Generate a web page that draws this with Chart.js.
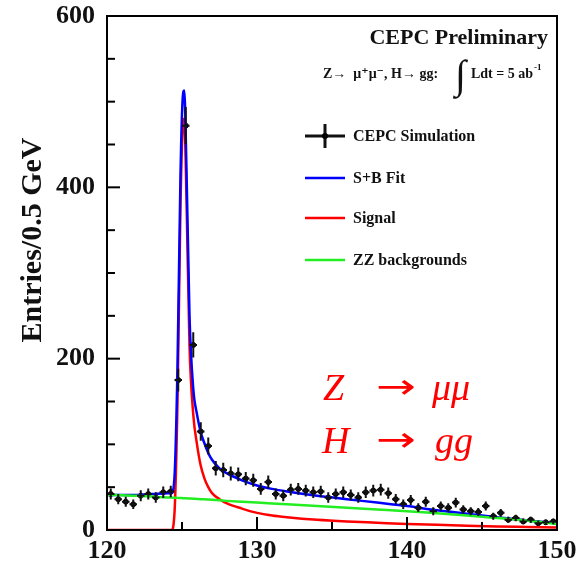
<!DOCTYPE html>
<html>
<head>
<meta charset="utf-8">
<script src="https://cdn.jsdelivr.net/npm/chart.js@4"></script>
<style>
  body { margin: 0; background: #fff; }
  #wrap { width: 578px; height: 569px; }
</style>
</head>
<body>
<div id="wrap"><canvas id="massChart" width="578" height="569"></canvas></div>
<script>
// bin centres (0.5 GeV bins) and entries
const binCenters = [
  120.25, 120.75, 121.25, 121.75, 122.25, 122.75, 123.25, 123.75, 124.25, 124.75,
  125.25, 125.75, 126.25, 126.75, 127.25, 127.75, 128.25, 128.75, 129.25, 129.75,
  130.25, 130.75, 131.25, 131.75, 132.25, 132.75, 133.25, 133.75, 134.25, 134.75,
  135.25, 135.75, 136.25, 136.75, 137.25, 137.75, 138.25, 138.75, 139.25, 139.75,
  140.25, 140.75, 141.25, 141.75, 142.25, 142.75, 143.25, 143.75, 144.25, 144.75,
  145.25, 145.75, 146.25, 146.75, 147.25, 147.75, 148.25, 148.75, 149.25, 149.75
];
const entries = [
  42, 36, 33, 30, 40, 42, 38, 44, 45, 175,
  472, 216, 115, 98, 72, 70, 66, 65, 60, 58,
  48, 56, 42, 40, 47, 48, 46, 44, 45, 38,
  42, 44, 41, 38, 44, 46, 47, 43, 36, 30,
  35, 26, 33, 22, 28, 26, 32, 24, 22, 21,
  28, 16, 20, 12, 14, 10, 12, 8, 9, 10
];

// fit curves sampled at these masses
const fitMass = [
  120, 121, 122, 123, 124, 124.3, 124.5, 124.7, 124.9, 125.05,
  125.15, 125.3, 125.5, 125.75, 126, 126.25, 126.5, 126.75, 127, 127.5,
  128, 129, 130, 131, 132, 134, 136, 138, 140, 142,
  144, 146, 148, 150
];
const sbFit = [
  41, 41, 41, 42, 43, 43, 62, 190, 415, 505,
  513, 420, 250, 165, 135, 114, 101, 90, 82, 72,
  66, 58, 52, 48, 45, 40, 36, 32, 28, 23,
  19, 15, 11, 8
];
const signalFit = [
  0, 0, 0, 0, 0, 0, 20, 150, 380, 470,
  480, 385, 215, 135, 100, 75, 60, 50, 43, 36,
  31, 25, 20, 17, 15, 12, 10, 8.5, 7, 6,
  5, 4, 3.5, 3
];
const zzBkg = [
  41, 40.5, 40, 39, 38, 37.8, 37.6, 37.5, 37.3, 37.2,
  37.1, 37, 36.8, 36.6, 36.3, 36, 35.8, 35.5, 35.2, 34.6,
  34, 33, 32, 31, 30, 28, 26, 24, 22, 19.5,
  17, 14, 11, 7
];

const yTickLabels = [0, 200, 400, 600];
const xTickLabels = [120, 130, 140, 150];

const serif = '"Liberation Serif", "DejaVu Serif", serif';

function pts(xs, ys) {
  return xs.map((x, i) => ({ x: x, y: ys[i] }));
}

// error bars, inward ticks, frame and all the text inside the frame
const decorPlugin = {
  id: 'decor',
  afterDatasetsDraw(chart) {
    const ctx = chart.ctx;
    const xs = chart.scales.x, ys = chart.scales.y;

    // error bars of the simulation points
    ctx.save();
    ctx.strokeStyle = '#111';
    ctx.lineWidth = 2;
    binCenters.forEach((m, i) => {
      const v = entries[i];
      const err = Math.sqrt(v);
      const px = xs.getPixelForValue(m);
      const py = ys.getPixelForValue(v);
      ctx.beginPath();
      ctx.moveTo(px, ys.getPixelForValue(v - err));
      ctx.lineTo(px, ys.getPixelForValue(v + err));
      ctx.moveTo(xs.getPixelForValue(m - 0.25), py);
      ctx.lineTo(xs.getPixelForValue(m + 0.25), py);
      ctx.stroke();
    });
    ctx.restore();
  },
  afterDraw(chart) {
    const ctx = chart.ctx;
    const xs = chart.scales.x, ys = chart.scales.y;
    const a = chart.chartArea;

    ctx.save();
    // frame
    ctx.strokeStyle = '#000';
    ctx.lineWidth = 2;
    ctx.strokeRect(a.left, a.top, a.right - a.left, a.bottom - a.top);

    // y ticks pointing in
    ys.ticks.forEach(t => {
      const py = ys.getPixelForValue(t.value);
      const len = (t.value % 200 === 0) ? 13 : 8;
      ctx.beginPath();
      ctx.moveTo(a.left, py);
      ctx.lineTo(a.left + len, py);
      ctx.stroke();
    });
    // x ticks pointing in
    xs.ticks.forEach(t => {
      const px = xs.getPixelForValue(t.value);
      const len = (t.value % 10 === 0) ? 13 : 8;
      ctx.beginPath();
      ctx.moveTo(px, a.bottom);
      ctx.lineTo(px, a.bottom - len);
      ctx.stroke();
    });

    // y axis title
    ctx.save();
    ctx.translate(33, 240);
    ctx.rotate(-Math.PI / 2);
    ctx.fillStyle = '#111';
    ctx.font = 'bold 30px ' + serif;
    ctx.textAlign = 'center';
    ctx.textBaseline = 'middle';
    ctx.fillText('Entries/0.5 GeV', 0, 0);
    ctx.restore();

    // header
    ctx.fillStyle = '#111';
    ctx.textAlign = 'right';
    ctx.textBaseline = 'alphabetic';
    ctx.font = 'bold 22px ' + serif;
    ctx.fillText('CEPC Preliminary', 548, 44);

    ctx.textAlign = 'left';
    ctx.font = 'bold 14px ' + serif;
    ctx.fillText('Z\u2192  \u03bc\u207a\u03bc\u207b, H\u2192 gg:', 323, 78);
    ctx.font = '40px ' + serif;
    ctx.fillText('\u222b', 455, 88);
    ctx.font = 'bold 14px ' + serif;
    const lumi = 'Ldt = 5 ab';
    ctx.fillText(lumi, 471, 78);
    const lumiEnd = 471 + ctx.measureText(lumi).width;
    ctx.font = 'bold 9px ' + serif;
    ctx.fillText('-1', lumiEnd + 1, 70);

    // legend
    const legend = [
      { label: 'CEPC Simulation', color: '#111', y: 136, bar: true },
      { label: 'S+B Fit', color: '#0000ff', y: 178 },
      { label: 'Signal', color: '#ff0000', y: 218 },
      { label: 'ZZ backgrounds', color: '#22ee22', y: 260 }
    ];
    ctx.font = 'bold 16px ' + serif;
    ctx.textBaseline = 'middle';
    legend.forEach(e => {
      ctx.strokeStyle = e.color;
      ctx.lineWidth = e.bar ? 3 : 2.5;
      ctx.beginPath();
      ctx.moveTo(305, e.y);
      ctx.lineTo(345, e.y);
      if (e.bar) {
        ctx.moveTo(325, e.y - 12);
        ctx.lineTo(325, e.y + 12);
      }
      ctx.stroke();
      if (e.bar) {
        ctx.fillStyle = '#000';
        ctx.beginPath();
        ctx.arc(325, e.y, 3, 0, Math.PI * 2);
        ctx.fill();
      }
      ctx.fillStyle = '#111';
      ctx.fillText(e.label, 353, e.y + 1);
    });

    // process label
    ctx.fillStyle = '#ff0000';
    ctx.textBaseline = 'alphabetic';
    ctx.font = 'italic 38px ' + serif;
    ctx.fillText('Z', 323, 400);
    ctx.fillText('\u03bc\u03bc', 432, 400);
    ctx.fillText('H', 322, 453);
    ctx.fillText('gg', 435, 453);
    ctx.font = '34px "DejaVu Sans", sans-serif';
    [398, 451].forEach(by => {
      ctx.save();
      ctx.translate(376, by);
      ctx.scale(1.4, 1);
      ctx.fillText('\u2192', 0, 0);
      ctx.restore();
    });

    ctx.restore();
  }
};

const ctxChart = document.getElementById('massChart').getContext('2d');
new Chart(ctxChart, {
  type: 'line',
  data: {
    datasets: [
      {
        label: 'ZZ backgrounds',
        data: pts(fitMass, zzBkg),
        borderColor: '#22ee22',
        borderWidth: 2.5,
        pointRadius: 0,
        cubicInterpolationMode: 'monotone'
      },
      {
        label: 'S+B Fit',
        data: pts(fitMass, sbFit),
        borderColor: '#0000ff',
        borderWidth: 2.5,
        pointRadius: 0,
        cubicInterpolationMode: 'monotone'
      },
      {
        label: 'Signal',
        data: pts(fitMass, signalFit),
        borderColor: '#ff0000',
        borderWidth: 2.5,
        pointRadius: 0,
        cubicInterpolationMode: 'monotone'
      },
      {
        label: 'CEPC Simulation',
        data: pts(binCenters, entries),
        showLine: false,
        pointRadius: 2.5,
        pointBackgroundColor: '#000',
        pointBorderColor: '#000'
      }
    ]
  },
  options: {
    responsive: false,
    animation: false,
    devicePixelRatio: 1,
    layout: { padding: { top: 16, right: 21, left: 0, bottom: 0 } },
    plugins: {
      legend: { display: false },
      tooltip: { enabled: false }
    },
    scales: {
      x: {
        type: 'linear',
        min: 120,
        max: 150,
        border: { display: false },
        grid: { display: false, drawTicks: false },
        ticks: {
          stepSize: 5,
          autoSkip: false,
          maxRotation: 0,
          padding: 6,
          color: '#111',
          font: { family: serif, size: 26, weight: 'bold' },
          callback: v => xTickLabels.includes(v) ? String(v) : ''
        },
        afterFit: s => {
          s.height = 39;
          s.paddingLeft = 0;
          s.paddingRight = 0;
        }
      },
      y: {
        min: 0,
        max: 600,
        border: { display: false },
        grid: { display: false, drawTicks: false },
        ticks: {
          stepSize: 50,
          autoSkip: false,
          padding: 12,
          color: '#111',
          font: { family: serif, size: 26, weight: 'bold' },
          callback: v => yTickLabels.includes(v) ? String(v) : ''
        },
        afterFit: s => {
          s.width = 107;
          s.paddingTop = 0;
          s.paddingBottom = 0;
        }
      }
    }
  },
  plugins: [decorPlugin]
});
</script>
</body>
</html>
